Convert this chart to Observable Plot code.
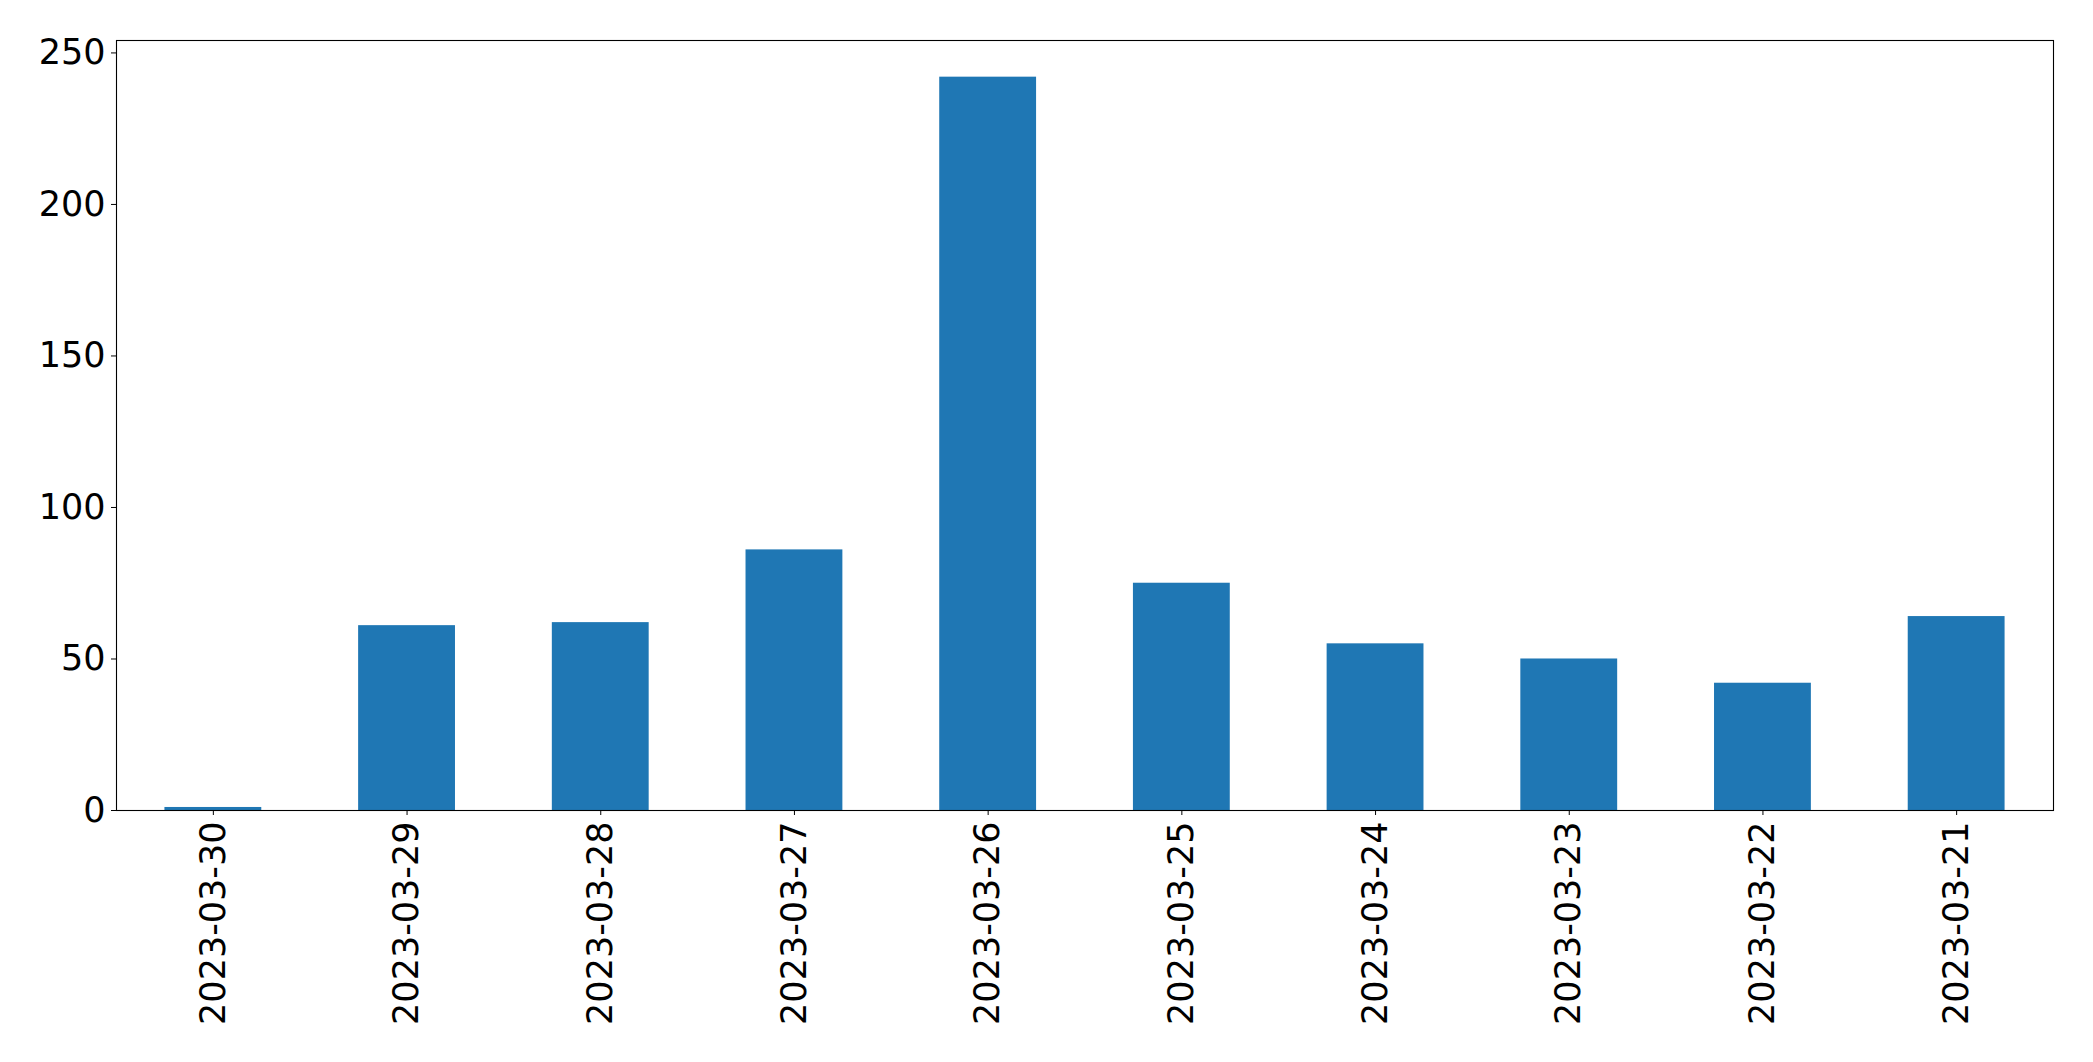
<!DOCTYPE html>
<html>
<head>
<meta charset="utf-8">
<script src="https://cdn.jsdelivr.net/npm/d3@7"></script>
<script src="https://cdn.jsdelivr.net/npm/@observablehq/plot@0.6"></script>
<style>
  html, body { margin: 0; padding: 0; background: #fff; }
  #chart svg { display: block; }
</style>
</head>
<body>
<div id="chart"></div>
<script>
const dates = ["2023-03-30", "2023-03-29", "2023-03-28", "2023-03-27", "2023-03-26",
               "2023-03-25", "2023-03-24", "2023-03-23", "2023-03-22", "2023-03-21"];
const counts = [1, 61, 62, 86, 242, 75, 55, 50, 42, 64];
const yTicks = [0, 50, 100, 150, 200, 250];

const data = dates.map((d, i) => ({date: d, count: counts[i]}));

const chart = Plot.plot({
  width: 2093,
  height: 1062,
  marginTop: 40,
  marginLeft: 116,
  marginRight: 40,
  marginBottom: 252,
  style: {fontFamily: "DejaVu Sans", fontSize: "35px", color: "#000", background: "#fff"},
  x: {type: "band", domain: dates, paddingInner: 0.5, paddingOuter: 0.25, round: false, label: null},
  y: {domain: [0, 254.1], label: null},
  marks: [
    Plot.barY(data, {x: "date", y: "count", fill: "#1f77b4"}),
    Plot.axisY({ticks: yTicks, tickSize: 5, tickPadding: 6, fontSize: 35, label: null, stroke: "#000", strokeOpacity: 1}),
    Plot.axisX({tickSize: 5, tickPadding: 6, tickRotate: -90, fontSize: 35, label: null, stroke: "#000", strokeOpacity: 1}),
    Plot.frame({stroke: "#000", strokeOpacity: 1, strokeWidth: 1.1})
  ]
});
document.getElementById("chart").appendChild(chart);
</script>
</body>
</html>
